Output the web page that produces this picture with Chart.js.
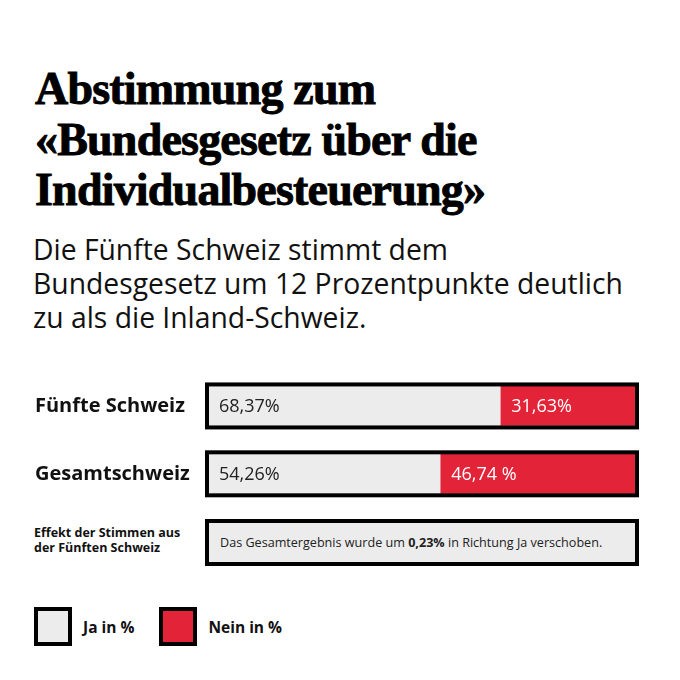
<!DOCTYPE html>
<html lang="de">
<head>
<meta charset="utf-8">
<title>Abstimmung Individualbesteuerung</title>
<script src="https://cdn.jsdelivr.net/npm/chart.js@4"></script>
<style>
  html, body { margin: 0; padding: 0; background: #fff; }
  body { width: 680px; height: 680px; position: relative; overflow: hidden; font-family: "Open Sans", sans-serif; color: #111; }
  .title { position: absolute; left: 35px; top: 64px; margin: 0; font-family: "Liberation Serif", serif; font-weight: 700; font-size: 46px; line-height: 50.5px; letter-spacing: -0.8px; color: #000; -webkit-text-stroke: 0.9px #000; }
  .subtitle { position: absolute; left: 33px; top: 232px; margin: 0; font-size: 28.3px; line-height: 34px; font-weight: 400; color: #111; }
  .chart-wrap { position: absolute; left: 0; top: 360px; width: 680px; height: 160px; }
  .effect-label { position: absolute; left: 34px; top: 525px; font-size: 12.5px; line-height: 15px; font-weight: 700; color: #111; }
  .effect-box { position: absolute; left: 205px; top: 519px; width: 415px; height: 39px; border: 4px solid #000; background: #ececec; font-size: 12.6px; line-height: 39px; padding-left: 11px; color: #222; }
  .legend { position: absolute; left: 34px; top: 607px; display: flex; align-items: center; }
  .legend-item { display: flex; align-items: center; margin-right: 25px; font-weight: 700; font-size: 15.5px; color: #111; }
  .legend-swatch { width: 30px; height: 31px; border: 4px solid #000; margin-right: 11px; }
</style>
</head>
<body>
<h1 class="title">Abstimmung zum<br>«Bundesgesetz über die<br>Individualbesteuerung»</h1>
<p class="subtitle">Die Fünfte Schweiz stimmt dem<br>Bundesgesetz um 12 Prozentpunkte deutlich<br>zu als die Inland-Schweiz.</p>
<div class="chart-wrap"><canvas id="voteChart"></canvas></div>
<div class="effect-label">Effekt der Stimmen aus<br>der Fünften Schweiz</div>
<div class="effect-box">Das Gesamtergebnis wurde um <b>0,23%</b> in Richtung Ja verschoben.</div>
<div class="legend" id="legend"></div>

<script>
const REGIONS = ['Fünfte Schweiz', 'Gesamtschweiz'];
const JA = [68.37, 54.26];
const NEIN = [31.63, 46.74];
const JA_LABELS = ['68,37%', '54,26%'];
const NEIN_LABELS = ['31,63%', '46,74 %'];
const SERIES = ['Ja in %', 'Nein in %'];
const GREY = '#ececec';
const RED = '#e22338';

// black frame round each bar plus the value text inside each segment
const frameAndLabels = {
  id: 'frameAndLabels',
  afterDatasetsDraw(chart) {
    const ctx = chart.ctx;
    const area = chart.chartArea;
    const ja = chart.getDatasetMeta(0).data;
    const nein = chart.getDatasetMeta(1).data;
    const texts = [JA_LABELS, NEIN_LABELS];
    ctx.save();
    ja.forEach((bar, i) => {
      const left = bar.base;
      const right = Math.min(nein[i].x, area.right); // source values add up to 101
      const top = bar.y - bar.height / 2;
      ctx.lineWidth = 4;
      ctx.strokeStyle = '#000';
      ctx.strokeRect(left - 2, top - 2, right - left + 4, bar.height + 4);
    });
    ctx.font = '400 18px "Open Sans"';
    ctx.textBaseline = 'middle';
    [ja, nein].forEach((bars, d) => {
      ctx.fillStyle = d === 0 ? '#222' : '#fff';
      bars.forEach((bar, i) => {
        ctx.fillText(texts[d][i], bar.base + (d === 0 ? 10 : 11), bar.y + 1);
      });
    });
    ctx.restore();
  }
};

const chart = new Chart(document.getElementById('voteChart'), {
  type: 'bar',
  data: {
    labels: REGIONS,
    datasets: [
      { label: SERIES[0], data: JA, backgroundColor: GREY, barThickness: 39, clip: 0 },
      { label: SERIES[1], data: NEIN, backgroundColor: RED, barThickness: 39, clip: 0 }
    ]
  },
  options: {
    indexAxis: 'y',
    responsive: true,
    maintainAspectRatio: false,
    animation: false,
    layout: { padding: { left: 35, right: 45, top: 8.75, bottom: 12.25 } },
    scales: {
      x: { stacked: true, min: 0, max: 100, display: false },
      y: {
        stacked: true,
        grid: { display: false },
        border: { display: false },
        afterFit: s => { s.width = 174; },
        ticks: {
          crossAlign: 'far',
          padding: 0,
          color: '#111',
          font: { family: 'Open Sans', weight: '700', size: 20 }
        }
      }
    },
    plugins: {
      legend: { display: false },
      tooltip: { enabled: false }
    }
  },
  plugins: [frameAndLabels]
});

// legend built from the datasets
document.getElementById('legend').innerHTML = chart.data.datasets.map(ds => `
  <div class="legend-item"><span class="legend-swatch" style="background:${ds.backgroundColor}"></span>${ds.label}</div>
`).join('');
</script>
</body>
</html>
